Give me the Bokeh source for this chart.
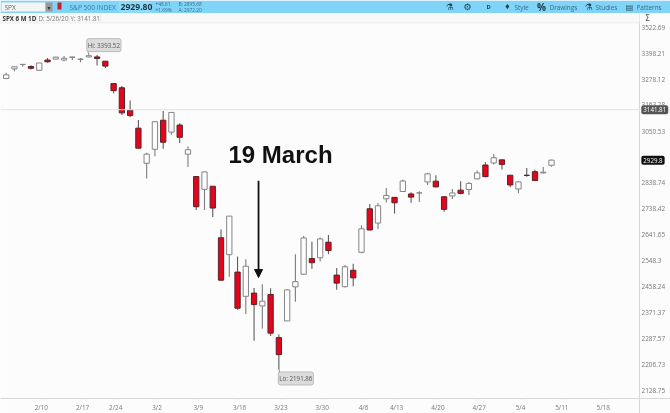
from bokeh.embed import file_html
from bokeh.resources import INLINE
from bokeh.plotting import figure
from bokeh.models import (Range1d, FixedTicker, Label, BoxAnnotation, Span, Arrow,
                          NormalHead, ColumnDataSource)

# Daily OHLC, 4 Feb - 8 May 2020
dates = ["2/4","2/5","2/6","2/7","2/10","2/11","2/12","2/13","2/14","2/18","2/19","2/20","2/21",
         "2/24","2/25","2/26","2/27","2/28","3/2","3/3","3/4","3/5","3/6","3/9","3/10","3/11","3/12","3/13",
         "3/16","3/17","3/18","3/19","3/20","3/23","3/24","3/25","3/26","3/27","3/30","3/31","4/1","4/2","4/3",
         "4/6","4/7","4/8","4/9","4/13","4/14","4/15","4/16","4/17","4/20","4/21","4/22","4/23","4/24",
         "4/27","4/28","4/29","4/30","5/1","5/4","5/5","5/6","5/7","5/8"]
opens = [3280.61,3324.91,3344.92,3335.54,3318.28,3365.87,3370.50,3365.90,3378.08,3369.04,3380.39,3380.45,3360.50,
         3257.61,3238.94,3139.90,3062.54,2916.90,2974.28,3096.46,3045.75,3075.70,2954.20,2863.89,2813.48,2825.60,2630.86,2569.99,
         2508.59,2425.66,2436.50,2393.48,2431.94,2290.71,2344.44,2457.77,2501.29,2555.87,2558.98,2614.69,2498.08,2458.54,2514.92,
         2578.28,2738.65,2685.00,2776.99,2782.46,2805.10,2795.64,2799.34,2842.43,2845.62,2784.81,2787.89,2810.42,2812.64,
         2854.65,2909.96,2918.46,2930.91,2869.09,2815.01,2868.88,2883.14,2878.26,2908.83]
highs = [3306.92,3337.58,3347.96,3341.42,3352.26,3375.63,3381.47,3385.09,3380.69,3375.01,3393.52,3389.15,3360.76,
         3259.81,3246.99,3182.51,3097.07,2959.72,3090.96,3136.72,3130.97,3083.04,2985.93,2863.89,2882.59,2825.60,2660.95,2711.33,
         2562.98,2553.93,2453.57,2466.97,2453.01,2300.73,2449.71,2571.42,2637.01,2615.91,2631.80,2641.39,2522.75,2533.22,2538.18,
         2676.85,2756.89,2760.75,2818.57,2782.46,2851.85,2801.88,2806.51,2879.22,2868.98,2785.54,2815.10,2844.90,2842.71,
         2887.72,2921.15,2954.86,2930.91,2869.09,2844.24,2898.23,2891.11,2901.92,2932.16]
lows = [3280.61,3313.75,3334.39,3322.12,3317.77,3352.72,3369.72,3360.52,3366.15,3355.61,3378.83,3341.02,3328.45,
        3214.65,3118.77,3108.99,2977.39,2855.84,2945.19,2976.63,3034.38,2999.83,2901.54,2734.43,2734.00,2707.22,2478.86,2492.37,
        2380.94,2367.04,2280.52,2319.78,2295.56,2191.86,2344.44,2407.53,2500.72,2520.02,2545.28,2571.15,2447.49,2455.79,2459.96,
        2574.57,2657.67,2663.30,2762.36,2721.17,2805.10,2761.54,2764.32,2830.88,2820.43,2727.10,2775.95,2794.26,2791.76,
        2852.89,2860.71,2912.16,2892.47,2821.61,2797.85,2863.55,2847.65,2876.48,2902.88]
closes = [3297.59,3334.69,3345.78,3327.71,3352.09,3357.75,3379.45,3373.94,3380.16,3370.29,3386.15,3373.23,3337.75,
          3225.89,3128.21,3116.39,2978.76,2954.22,3090.23,3003.37,3130.12,3023.94,2972.37,2746.56,2882.23,2741.38,2480.64,2711.02,
          2386.13,2529.19,2398.10,2409.39,2304.92,2237.40,2447.33,2475.56,2630.07,2541.47,2626.65,2584.59,2470.50,2526.90,2488.65,
          2663.68,2659.41,2749.98,2789.82,2761.63,2846.06,2783.36,2799.55,2874.56,2823.16,2736.56,2799.31,2797.80,2836.74,
          2878.48,2863.39,2939.51,2912.43,2830.71,2842.74,2868.44,2848.42,2881.19,2929.80]

price_ticks = [3522.69,3398.21,3278.12,3163.28,3050.53,2838.74,2738.42,2641.65,2548.3,2458.24,2371.37,2287.57,2206.73,2128.75]
date_tick_idx = [4,9,13,18,23,28,33,38,43,47,52,57,62,67,72]
date_tick_txt = ["2/10","2/17","2/24","3/2","3/9","3/16","3/23","3/30","4/6","4/13","4/20","4/27","5/4","5/11","5/18"]
hi_val, lo_val, cursor_val, last_val = 3393.52, 2191.86, 3141.81, 2929.8

W, H = 670, 413
p = figure(width=W, height=H, y_axis_type="log", y_axis_location="right", output_backend="svg",
           toolbar_location=None, x_range=Range1d(-0.69, 80.4), y_range=Range1d(2062.0, 3655.5),
           min_border_left=0, min_border_top=0, min_border_right=0, min_border_bottom=0,
           background_fill_color="#fcfcfc", border_fill_color="#fcfcfc", outline_line_color=None)
p.styles = {"position": "fixed", "left": "0px", "top": "0px"}
p.grid.visible = False

FONT = "Open Sans"
ax = p.yaxis[0]
ax.fixed_location = 76.65
ax.ticker = FixedTicker(ticks=price_ticks)
ax.major_label_overrides = {v: str(v) for v in price_ticks}
ax.major_label_text_font = FONT
ax.major_label_text_font_size = "6.4px"
ax.major_label_text_color = "#777777"
ax.major_label_standoff = 2
ax.major_tick_in = 0
ax.major_tick_out = 0
ax.minor_tick_in = 0
ax.minor_tick_out = 0
ax.major_tick_line_color = None
ax.minor_tick_line_color = None
ax.axis_line_color = "#d8d8d8"

bx = p.xaxis[0]
bx.fixed_location = 2105.3
shift = 0.25
bx.ticker = FixedTicker(ticks=[i + shift for i in date_tick_idx])
bx.major_label_overrides = {i + shift: t for i, t in zip(date_tick_idx, date_tick_txt)}
bx.major_label_text_font = FONT
bx.major_label_text_font_size = "6.4px"
bx.major_label_text_color = "#777777"
bx.major_label_standoff = 3
bx.major_tick_in = 0
bx.major_tick_out = 1
bx.major_tick_line_color = "#e2e2e2"
bx.minor_tick_line_color = None
bx.axis_line_color = "#d8d8d8"

p.add_layout(Span(location=cursor_val, dimension="width", line_color="#e2e2e2", line_width=1))

idx = list(range(len(dates)))
up = [c > o for o, c in zip(opens, closes)]
src = ColumnDataSource(dict(
    x=idx, high=highs, low=lows,
    top=[max(o, c) for o, c in zip(opens, closes)],
    bottom=[min(o, c) for o, c in zip(opens, closes)],
    fill=["#fdfdfd" if u else "#e2061c" for u in up],
    line=["#858585" if u else "#5a2026" for u in up],
    wick=["#7c7c7c" if u else "#5c5c5c" for u in up],
))
p.segment("x", "high", "x", "low", source=src, line_color="wick", line_width=1.1)
p.vbar("x", 0.64, "top", "bottom", source=src, fill_color="fill", line_color="line", line_width=1)

# chrome, positioned in page pixels
def box(x0, y0, x1, y1, color):
    p.add_layout(BoxAnnotation(left=x0, right=x1, top=H - y0, bottom=H - y1,
                               left_units="screen", right_units="screen", top_units="screen", bottom_units="screen",
                               fill_color=color, fill_alpha=1, line_color=None, level="overlay"))

def txt(x, y, s, size=6.5, color="#4a6b80", bold=False, font=FONT, align="left"):
    p.add_layout(Label(x=x, y=H - y, text=s, x_units="screen", y_units="screen", text_font=font,
                       text_font_size=f"{size}px", text_color=color, text_baseline="middle", text_align=align,
                       text_font_style="bold" if bold else "normal", level="overlay"))

box(0, 0, 670, 12.5, "#7fd4f8")
box(0, 12.5, 639, 22, "#f8f8f8")
box(0, 22, 639, 22.8, "#e6e6e6")
box(1, 2, 45, 11, "#f4f4f4")
box(45, 2, 52, 11, "#9a9a9a")
box(57, 2, 61, 9, "#c81e32")
box(118, 1, 150, 12, "#8fdcfa")
txt(4, 6.5, "SPX", 6.5, "#666666")
txt(48.5, 6.5, "▾", 6, "#333333", font="DejaVu Sans", align="center")
txt(69, 6.5, "S&P 500 INDEX", 6.6, "#3f7a9c")
txt(120, 6.5, "2929.80", 8.6, "#1f3442", bold=True)
txt(155, 3.5, "+48.61", 4.8, "#3f6a85")
txt(155, 9, "+1.69%", 4.8, "#3f6a85")
txt(178, 3.5, "B: 2895.68", 4.8, "#3f6a85")
txt(178, 9, "A: 2972.20", 4.8, "#3f6a85")
txt(449, 6.5, "⚗", 9, "#22445a", font="DejaVu Sans", align="center")
txt(467, 6.5, "⚙", 9, "#22445a", font="DejaVu Sans", align="center")
txt(488, 6.5, "D", 5.6, "#22445a", bold=True, align="center")
txt(507, 6.5, "♦", 7, "#22445a", font="DejaVu Sans", align="center")
txt(514, 6.5, "Style", 6.4, "#3f6a85")
txt(541, 6.5, "%", 10, "#1f3442", bold=True, align="center")
txt(549, 6.5, "Drawings", 6.4, "#3f6a85")
txt(588, 6.5, "⚗", 9, "#22445a", font="DejaVu Sans", align="center")
txt(595, 6.5, "Studies", 6.4, "#3f6a85")
txt(629, 6.5, "▤", 8, "#22445a", font="DejaVu Sans", align="center")
txt(636, 6.5, "Patterns", 6.4, "#3f6a85")
txt(2, 17.5, "SPX 6 M 1D", 6.2, "#333333", bold=True)
box(36, 13, 36.6, 22, "#dddddd")
txt(38, 17.5, "D: 5/26/20", 6.2, "#777777")
box(68, 13, 68.6, 22, "#dddddd")
txt(70, 17.5, "Y: 3141.81", 6.2, "#777777")
box(100, 13, 100.6, 22, "#dddddd")
txt(647, 17.5, "Σ", 8, "#555555", font="DejaVu Sans", align="center")

# annotations tied to the data
arrow_x, arrow_top, arrow_tip = 30.54, 2847.7, 2489.7
p.add_layout(Arrow(end=NormalHead(size=8, fill_color="#111111", line_color="#111111"), x_start=arrow_x, y_start=arrow_top,
                   x_end=arrow_x, y_end=arrow_tip, line_color="#111111", line_width=1.8))
p.add_layout(Label(x=33.2, y=2953, text="19 March", text_font="Liberation Sans", text_font_size="24px",
                   text_font_style="bold", text_color="#111111", text_align="center", text_baseline="middle"))

def tag(x, y, s, fill, color, size=6.2, pad=(1, 2), align="left", xoff=0, yoff=0):
    p.add_layout(Label(x=x, y=y, text=s, x_offset=xoff, y_offset=yoff, text_font=FONT, text_font_size=f"{size}px",
                       text_color=color, text_align=align, text_baseline="middle", background_fill_color=fill,
                       background_fill_alpha=1, border_line_color="#bbbbbb" if fill.startswith("#d") else None,
                       border_radius=2, padding=pad, level="overlay"))

p.segment([10, 33], [hi_val, lo_val], [9.8, 33.2], [hi_val * 1.006, lo_val * 0.992], line_color="#888888", line_width=1)
tag(10, hi_val, f"Hi: {hi_val}", "#dcdcdc", "#555555", align="center", xoff=15, yoff=9)
tag(33, lo_val, f"Lo: {lo_val}", "#dcdcdc", "#555555", align="center", xoff=17, yoff=-9)
tag(76.87, cursor_val, "3141.81", "#555555", "#ffffff", size=6.2, pad=(2, 2))
tag(76.87, last_val, "2929.8", "#111111", "#ffffff", size=6.2, pad=(2, 2))

open("out.html", "w").write(file_html(p, INLINE))
